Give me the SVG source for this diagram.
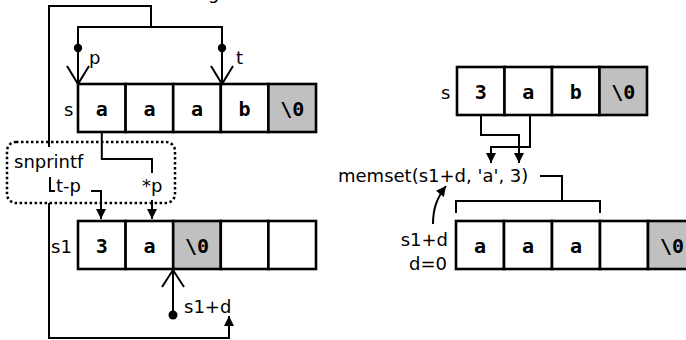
<svg xmlns="http://www.w3.org/2000/svg" width="686" height="340" viewBox="0 0 686 340">
<style>
.cell{fill:#fff;stroke:#000;stroke-width:2.6}
.nul{fill:#c0c0c0;stroke:#000;stroke-width:2.6}
.ct{font-family:"DejaVu Sans Mono","Liberation Mono",monospace;font-weight:bold;font-size:20px;text-anchor:middle;fill:#000}
.lb{font-family:"DejaVu Sans","Liberation Sans",sans-serif;font-size:18px;fill:#000}
.ln{fill:none;stroke:#000;stroke-width:2}
.fa{fill:none;stroke:#000;stroke-width:2;marker-end:url(#ah)}
.dot{fill:#000}
</style>
<defs>
<marker id="ah" viewBox="0 0 10 10" refX="10" refY="5" markerWidth="10" markerHeight="10" markerUnits="userSpaceOnUse" orient="auto">
<path d="M0,0 L10,5 L0,10 Z" fill="#000"/>
</marker>
</defs>
<text class="lb" x="208" y="-1" font-size="20">g</text>

<g id="s-left">
<rect class="cell" x="78" y="84" width="47.6" height="48"/>
<rect class="cell" x="125.6" y="84" width="47.6" height="48"/>
<rect class="cell" x="173.2" y="84" width="47.6" height="48"/>
<rect class="cell" x="220.8" y="84" width="47.6" height="48"/>
<rect class="nul" x="268.4" y="84" width="47.6" height="48"/>
<text class="ct" x="101.8" y="116">a</text>
<text class="ct" x="149.4" y="116">a</text>
<text class="ct" x="197" y="116">a</text>
<text class="ct" x="244.6" y="116">b</text>
<text class="ct" x="292.2" y="116">\0</text>
<text class="lb" x="64" y="116">s</text>
</g>

<g id="s1-left">
<rect class="cell" x="78" y="221" width="47.6" height="48"/>
<rect class="cell" x="125.6" y="221" width="47.6" height="48"/>
<rect class="nul" x="173.2" y="221" width="47.6" height="48"/>
<rect class="cell" x="220.8" y="221" width="47.6" height="48"/>
<rect class="cell" x="268.4" y="221" width="47.6" height="48"/>
<text class="ct" x="101.8" y="253">3</text>
<text class="ct" x="149.4" y="253">a</text>
<text class="ct" x="197" y="253">\0</text>
<text class="lb" x="51" y="253">s1</text>
</g>

<g id="snprintf">
<rect x="7" y="142" width="168" height="61" rx="9" fill="none" stroke="#000" stroke-width="2.5" stroke-dasharray="2.5 2.5"/>
<text class="lb" x="14" y="168">snprintf</text>
<text class="lb" x="56" y="192">t-p</text>
<text class="lb" x="142" y="192">*p</text>
</g>

<g id="pointers-left">
<circle class="dot" cx="78" cy="48" r="4.2"/>
<circle class="dot" cx="222" cy="48" r="4.2"/>
<text class="lb" x="89" y="64">p</text>
<text class="lb" x="236" y="64">t</text>
<circle class="dot" cx="173" cy="315" r="4.5"/>
<text class="lb" x="184" y="313">s1+d</text>
</g>

<g id="s-right">
<rect class="cell" x="457" y="67" width="47.5" height="48"/>
<rect class="cell" x="504.5" y="67" width="47.5" height="48"/>
<rect class="cell" x="552" y="67" width="47.5" height="48"/>
<rect class="nul" x="599.5" y="67" width="47.5" height="48"/>
<text class="ct" x="480.7" y="99">3</text>
<text class="ct" x="528.2" y="99">a</text>
<text class="ct" x="575.7" y="99">b</text>
<text class="ct" x="623.2" y="99">\0</text>
<text class="lb" x="441" y="99">s</text>
</g>

<g id="s1-right">
<rect class="cell" x="456" y="221" width="48" height="48"/>
<rect class="cell" x="504" y="221" width="48" height="48"/>
<rect class="cell" x="552" y="221" width="48" height="48"/>
<rect class="cell" x="600" y="221" width="48" height="48"/>
<rect class="nul" x="648" y="221" width="48" height="48"/>
<text class="ct" x="480" y="253">a</text>
<text class="ct" x="528" y="253">a</text>
<text class="ct" x="576" y="253">a</text>
<text class="ct" x="672" y="253">\0</text>
<text class="lb" x="448" y="246" text-anchor="end">s1+d</text>
<text class="lb" x="447" y="270" text-anchor="end">d=0</text>
</g>

<g id="memset">
<text class="lb" x="338" y="182" font-size="18.6">memset(s1+d, 'a', 3)</text>
</g>

<g id="connectors">
<path class="ln" d="M49,147 V6 H151 V27"/>
<path class="ln" d="M78,48 V27 H222 V48"/>
<path class="ln" d="M78,48 V83 M67,66 L78,84 L89,66"/>
<path class="ln" d="M222,48 V83 M211,66 L222,84 L233,66"/>
<path class="ln" d="M50,177 V191 H55"/>
<path class="fa" d="M91,191 H101 V219"/>
<path class="ln" d="M101.8,132 V159 H152 V173"/>
<path class="fa" d="M152,200 V219"/>
<path class="fa" d="M49,203 V338 H229 V316"/>
<path class="ln" d="M173,315 V270 M162,287 L173,270 L184,287"/>
<path class="ln" d="M481,115 V135 H519 V154"/>
<path class="fa" d="M519,150 V163"/>
<path class="ln" d="M530,115 V147 H491 V154"/>
<path class="fa" d="M491,150 V163"/>
<path class="ln" d="M540,176 H562 V201"/>
<path class="ln" d="M456,213 V201 H600 V213"/>
<path class="fa" d="M433,224 C433,210 436,199 446,186" stroke-width="2.5"/>
</g>
</svg>
